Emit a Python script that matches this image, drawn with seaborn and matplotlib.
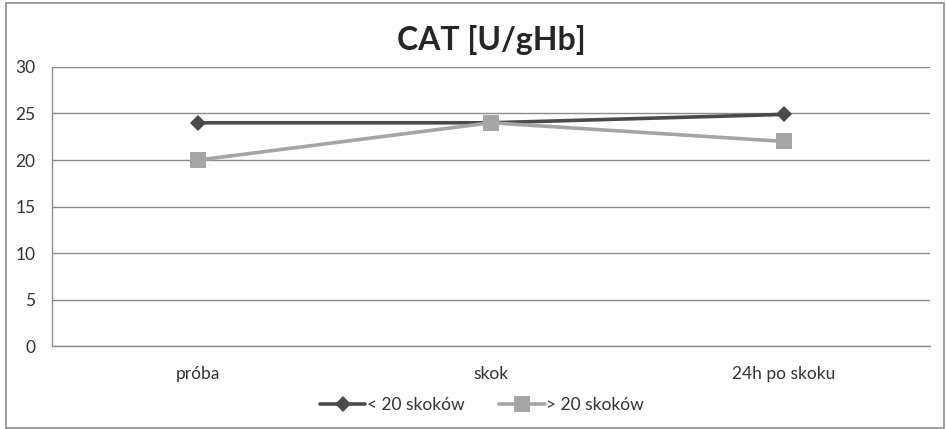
import pandas as pd
import seaborn as sns
from matplotlib import pyplot as plt
from matplotlib.patches import Rectangle

categories = ['próba', 'skok', '24h po skoku']
below_20 = [24, 24, 24.9]
above_20 = [20, 24, 22]
series_names = ['< 20 skoków', '> 20 skoków']

sns.set_style('white')
plt.rcParams['font.family'] = ['Lato', 'DejaVu Sans']

df = pd.DataFrame({
    'etap': categories * 2,
    'wartosc': below_20 + above_20,
    'grupa': [series_names[0]] * 3 + [series_names[1]] * 3,
})

fig = plt.figure(figsize=(9.46, 4.29), dpi=100)
ax = fig.add_axes([0.055, 0.193, 0.928, 0.651])

palette = {series_names[0]: '#4a4a4a', series_names[1]: '#a5a5a5'}
markers = {series_names[0]: 'D', series_names[1]: 's'}
sizes = {series_names[0]: 8.5, series_names[1]: 11}
for name in series_names:
    sub = df[df['grupa'] == name]
    sns.lineplot(data=sub, x='etap', y='wartosc', sort=False, ax=ax,
                 color=palette[name], linewidth=2.6, marker=markers[name],
                 markersize=sizes[name], markeredgewidth=0, label=name)

ax.set_xlim(-0.5, 2.5)
ax.set_ylim(0, 30)
ax.set_yticks(range(0, 31, 5))
ax.grid(axis='y', color='#8c8c8c', linewidth=1)
ax.set_axisbelow(True)
for s in ['top', 'right']:
    ax.spines[s].set_visible(False)
for s in ['left', 'bottom']:
    ax.spines[s].set_color('#8c8c8c')
    ax.spines[s].set_linewidth(1)
ax.set_xticks([0, 1, 2])
ax.set_xticklabels(categories)
ax.set_xticks([-0.5, 0.5, 1.5, 2.5], minor=True)
ax.tick_params(axis='x', which='major', length=0, pad=14, labelsize=12.5,
               labelcolor='#333333')
ax.tick_params(axis='x', which='minor', length=6, color='#8c8c8c', width=1)
ax.tick_params(axis='y', length=6, color='#8c8c8c', width=1, labelsize=12.5,
               pad=6, labelcolor='#333333')
ax.set_xlabel('')
ax.set_ylabel('')

ax.set_title('CAT [U/gHb]', fontsize=23, fontweight='bold', pad=12)

ax.legend(loc='upper center', bbox_to_anchor=(0.49, -0.125), ncol=2,
          frameon=False, fontsize=12.5, handlelength=2.6, columnspacing=2,
          handletextpad=0.1, labelcolor='#333333')

fig.patches.append(Rectangle((0.006, 0.002), 0.992, 0.99, transform=fig.transFigure,
                             fill=False, edgecolor='#8c8c8c', linewidth=1.2))

fig.savefig('out.png', dpi=100)
